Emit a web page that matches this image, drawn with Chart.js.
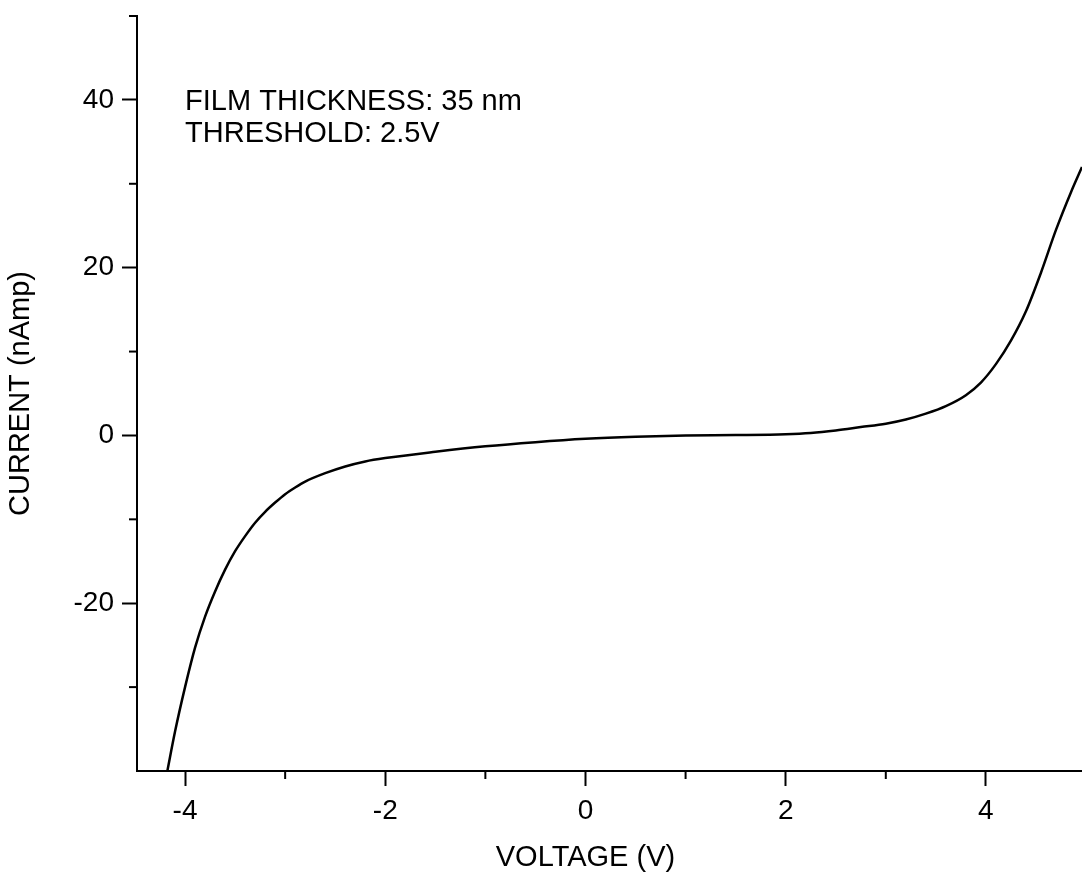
<!DOCTYPE html>
<html>
<head>
<meta charset="utf-8">
<script src="https://cdn.jsdelivr.net/npm/chart.js@4/dist/chart.umd.min.js"></script>
<style>
  body { margin: 0; background: #fff; }
</style>
</head>
<body>
<canvas id="chart" width="1082" height="878"></canvas>
<script>
// I-V curve
const voltage = [-4.18, -4.10, -4.00, -3.90, -3.80, -3.70, -3.60, -3.50, -3.40, -3.30,
                 -3.20, -3.10, -3.00, -2.90, -2.80, -2.60, -2.40, -2.20, -2.00, -1.50,
                 -1.00, -0.50, 0.00, 0.50, 1.00, 1.50, 2.00, 2.25, 2.50, 2.75,
                 3.00, 3.20, 3.40, 3.60, 3.80, 3.95, 4.10, 4.25, 4.40, 4.55,
                 4.70, 4.85, 4.96];
const current = [-40.2, -35.3, -30.0, -25.3, -21.6, -18.6, -16.0, -13.8, -12.0, -10.4,
                 -9.1, -8.0, -7.0, -6.2, -5.5, -4.5, -3.7, -3.1, -2.7, -1.95,
                 -1.3, -0.8, -0.4, -0.15, 0.0, 0.05, 0.15, 0.3, 0.6, 1.0,
                 1.4, 1.9, 2.6, 3.5, 4.8, 6.3, 8.5, 11.3, 14.8, 19.4,
                 24.5, 29.0, 32.0];

const xMinor = [-3, -1, 1, 3];
const yMinor = [-30, -10, 10, 30, 50];
const notes = ['FILM THICKNESS: 35 nm', 'THRESHOLD: 2.5V'];

const font = 'Liberation Sans, Arial, sans-serif';

let points = voltage.map((v, i) => ({x: v, y: current[i]}));

// minor ticks, annotation text and x title
const extras = {
  id: 'extras',
  afterDraw(chart) {
    let ctx = chart.ctx;
    let xs = chart.scales.x;
    let ys = chart.scales.y;
    let area = chart.chartArea;
    ctx.save();
    ctx.strokeStyle = '#000';
    ctx.lineWidth = 2;
    xMinor.forEach(v => {
      let px = xs.getPixelForValue(v);
      ctx.beginPath();
      ctx.moveTo(px, area.bottom);
      ctx.lineTo(px, area.bottom + 8);
      ctx.stroke();
    });
    yMinor.forEach(v => {
      let py = ys.getPixelForValue(v);
      ctx.beginPath();
      ctx.moveTo(area.left, py);
      ctx.lineTo(area.left - 8, py);
      ctx.stroke();
    });

    ctx.fillStyle = '#000';
    ctx.font = '29px ' + font;
    ctx.textAlign = 'left';
    ctx.textBaseline = 'middle';
    let nx = xs.getPixelForValue(-4);
    let ny = ys.getPixelForValue(40);
    notes.forEach((t, i) => ctx.fillText(t, nx, ny + 2 + i * 32));

    ctx.textAlign = 'center';
    ctx.fillText('VOLTAGE (V)', xs.getPixelForValue(0), 858);
    ctx.restore();
  }
};

new Chart(document.getElementById('chart'), {
  type: 'scatter',
  data: {
    datasets: [{
      data: points,
      showLine: true,
      borderColor: '#000',
      borderWidth: 2.5,
      pointRadius: 0,
      cubicInterpolationMode: 'monotone'
    }]
  },
  options: {
    responsive: false,
    animation: false,
    layout: { padding: { top: 16, right: 0, left: 0, bottom: 0 } },
    plugins: {
      legend: { display: false },
      tooltip: { enabled: false }
    },
    scales: {
      x: {
        type: 'linear',
        min: -4.48,
        max: 4.96,
        afterFit: s => { s.height = 107; s.paddingLeft = 0; s.paddingRight = 0; },
        border: { color: '#000', width: 2 },
        grid: { drawOnChartArea: false, tickLength: 15, tickColor: '#000', tickWidth: 2 },
        ticks: {
          stepSize: 2,
          includeBounds: false,
          padding: 8,
          color: '#000',
          font: { family: font, size: 28 }
        }
      },
      y: {
        min: -40,
        max: 50,
        afterFit: s => { s.width = 137; s.paddingTop = 0; s.paddingBottom = 0; },
        border: { color: '#000', width: 2 },
        grid: {
          drawOnChartArea: false,
          tickLength: 15,
          tickWidth: 2,
          tickColor: c => c.tick && c.tick.value === -40 ? 'rgba(0,0,0,0)' : '#000'
        },
        ticks: {
          stepSize: 20,
          includeBounds: false,
          padding: 8,
          color: '#000',
          font: { family: font, size: 28 },
          callback: v => v === -40 ? '' : v
        },
        title: {
          display: true,
          text: 'CURRENT (nAmp)',
          color: '#000',
          font: { family: font, size: 29 },
          padding: { top: 4, bottom: 0 }
        }
      }
    }
  },
  plugins: [extras]
});
</script>
</body>
</html>
